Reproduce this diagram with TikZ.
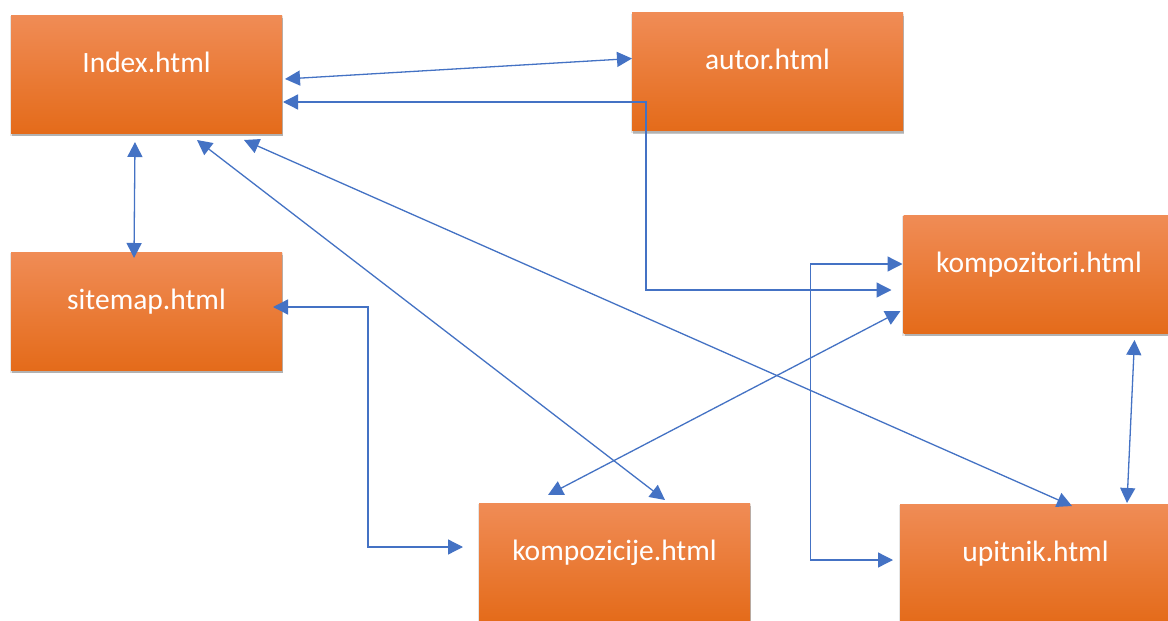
\documentclass[tikz,border=0pt]{standalone}
\usepackage{fontspec}
\setmainfont{Carlito}
\usetikzlibrary{arrows.meta,shadows,calc}
\definecolor{otop}{RGB}{240,140,86}
\definecolor{omid}{RGB}{245,127,42}
\definecolor{obot}{RGB}{228,107,26}
\definecolor{lnk}{RGB}{68,114,196}
\tikzset{
  pagebox/.style={rectangle, inner sep=0pt, outer sep=0pt,
    minimum width=271pt, minimum height=118pt,
    top color=otop, middle color=omid, bottom color=obot,
    general shadow={shadow xshift=0pt, shadow yshift=-2pt, shadow scale=1.01, fill=black, opacity=0.10},
    drop shadow={shadow xshift=1pt, shadow yshift=-3pt, fill=black, opacity=0.22},
    text=white, font=\fontsize{29.5}{35}\selectfont,
    text height=20pt, text depth=24pt},
  link/.style={draw=lnk, line width=1.3pt, {Triangle[length=15pt,width=15pt]}-{Triangle[length=15pt,width=15pt]}}
}
\begin{document}
\begin{tikzpicture}[x=1pt,y=-1pt]
\useasboundingbox[fill=white] (0,0) rectangle (1168,621);
\node[pagebox] (index) at (146.5,74) {Index.html};
\node[pagebox] (autor) at (767.5,71.5) {autor.html};
\node[pagebox] (sitemap) at (146.5,311) {sitemap.html};
\node[pagebox] (kompozitori) at (1039,274) {kompozitori.html};
\node[pagebox] (kompozicije) at (614.5,562) {kompozicije.html};
\node[pagebox] (upitnik) at (1035.5,563) {upitnik.html};
% connectors
\draw[link] ($(index.north west)+(274,64)$) -- ($(autor.north west)+(0,46)$);
\draw[link] ($(index.north west)+(272,87)$) -- ++(363,0) |- ($(kompozitori.north west)+(-12,75)$);
\draw[link] ($(index.north west)+(124,127)$) -- ($(sitemap.north west)+(123,6)$);
\draw[link] ($(index.north west)+(186,125)$) -- ($(kompozicije.north west)+(186,-3)$);
\draw[link] ($(index.north west)+(233,125)$) -- ($(upitnik.north west)+(172,2)$);
\draw[link] ($(sitemap.north west)+(262,55)$) -- ++(95,0) |- ($(kompozicije.north west)+(-16,44)$);
\draw[link] ($(kompozitori.north west)+(-3,96)$) -- ($(kompozicije.north west)+(69,-8)$);
\draw[link] ($(kompozitori.north west)+(-1,49)$) -- ++(-92,0) |- ($(upitnik.north west)+(-7,56)$);
\draw[link] ($(kompozitori.north west)+(231,125)$) -- ($(upitnik.north west)+(227,-1)$);
\end{tikzpicture}
\end{document}
